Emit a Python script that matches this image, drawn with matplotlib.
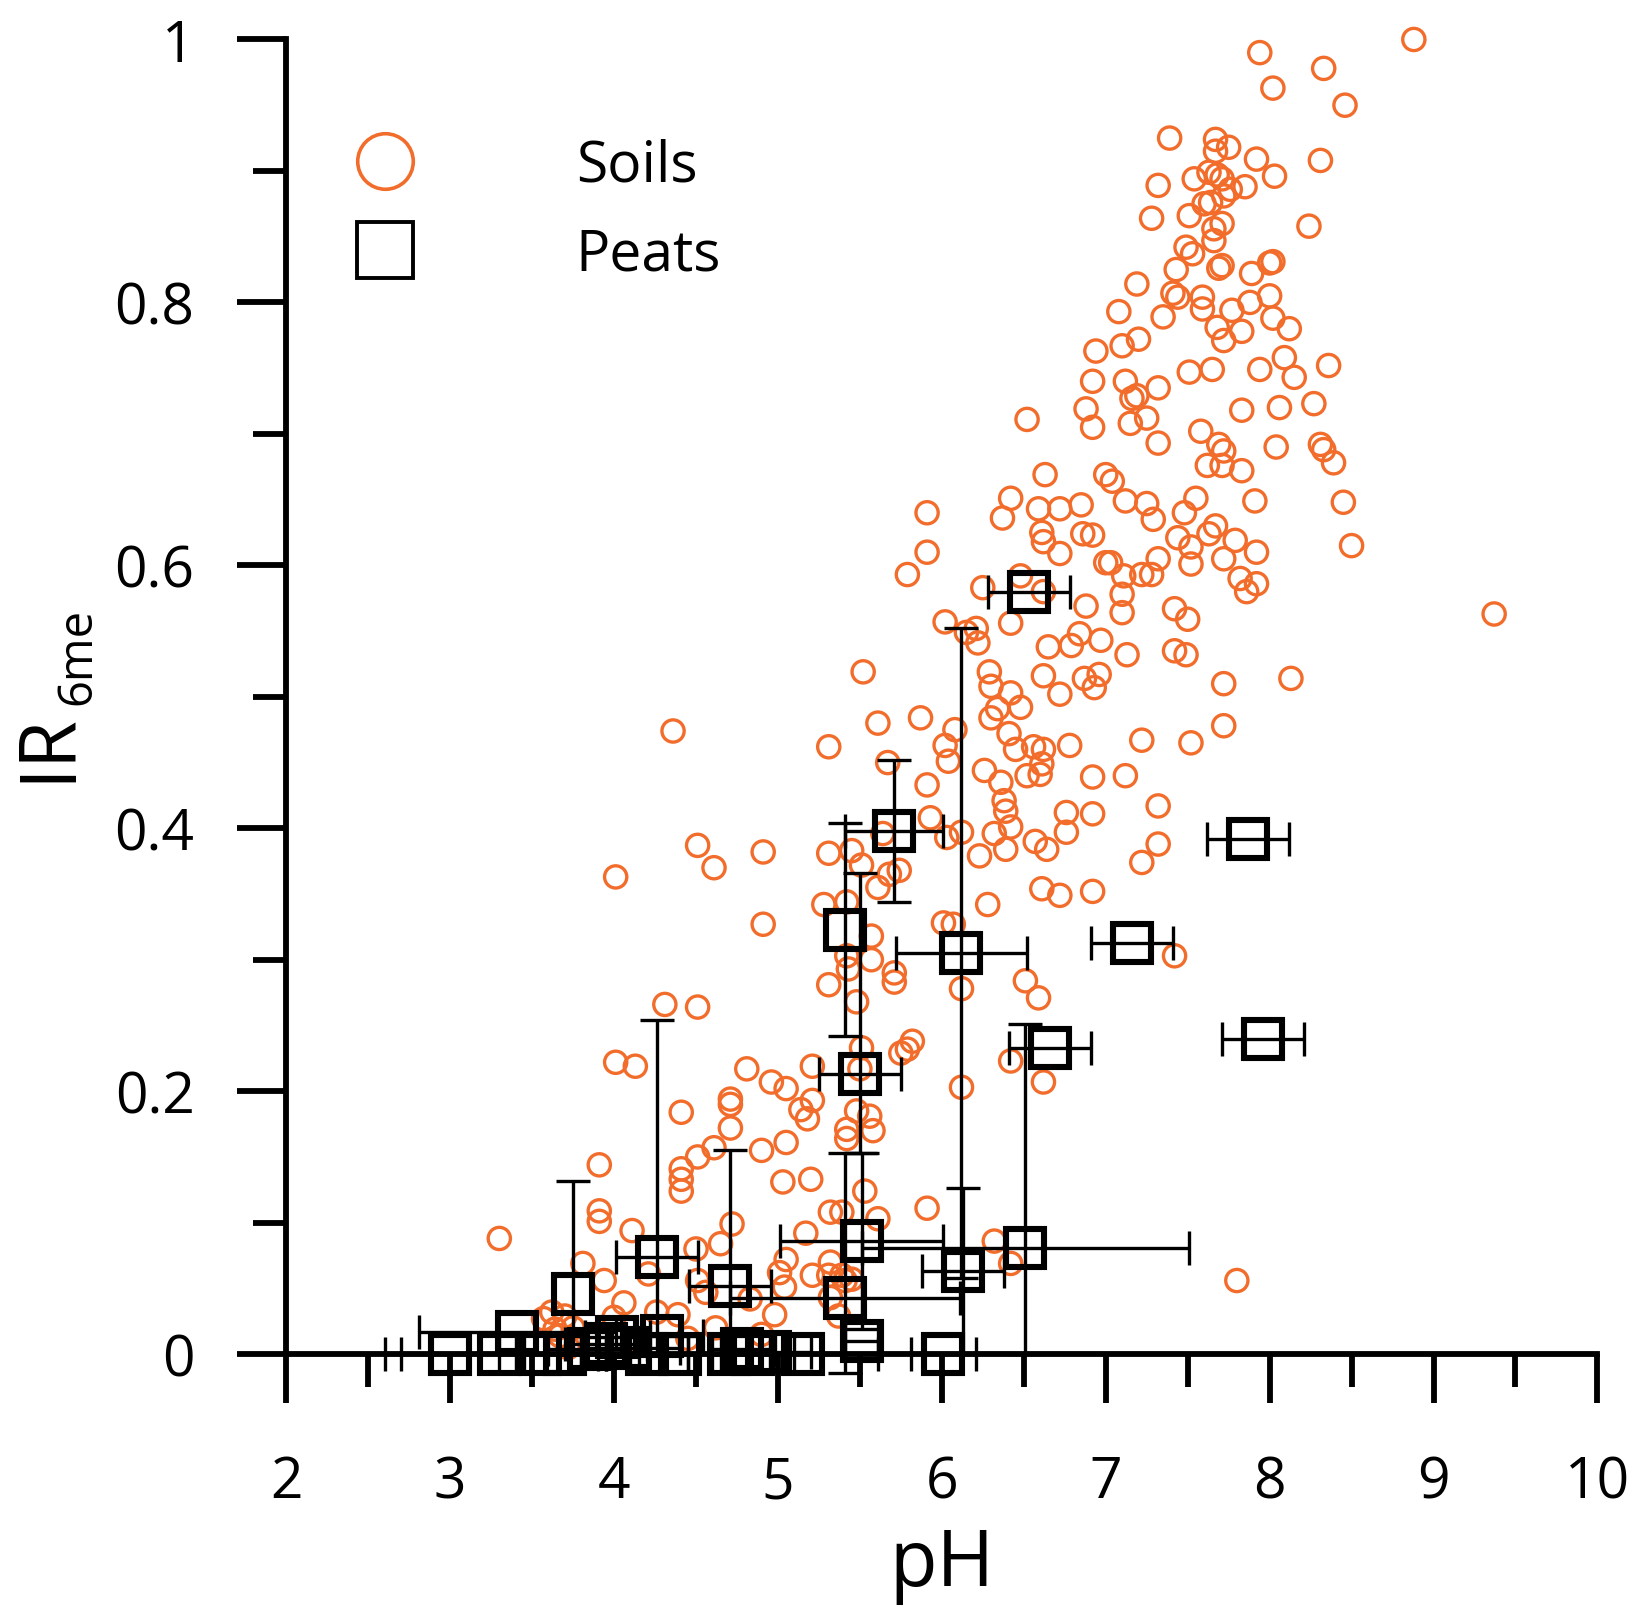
import numpy as np
import matplotlib
matplotlib.use("Agg")
import matplotlib.pyplot as plt
from matplotlib.lines import Line2D
from matplotlib.ticker import MultipleLocator, FuncFormatter

plt.rcParams['font.family'] = ['Open Sans', 'DejaVu Sans']

ORANGE = '#F26D2B'

# soils: pH and IR6me
soil_ph = [
    8.88, 7.94, 8.33, 8.02, 8.46, 7.39, 7.67, 7.75, 7.67, 7.92, 8.31, 8.03, 7.54, 7.63, 7.68, 7.71,
    7.85, 7.76, 7.32, 7.72, 7.64, 7.60, 7.28, 7.51, 7.71, 7.66, 7.66, 8.24, 7.49, 7.53, 7.43, 7.69,
    7.71, 7.89, 8.02, 8.00, 7.19, 7.41, 7.44, 7.59, 7.59, 7.08, 7.35, 7.77, 7.88, 8.00, 8.02, 8.12,
    7.68, 7.83, 7.72, 7.20, 7.10, 6.94, 7.51, 7.65, 7.94, 8.09, 8.15, 8.36, 6.92, 7.12, 7.19, 7.16,
    7.32, 6.88, 6.92, 6.52, 7.15, 7.25, 7.83, 8.06, 8.27, 7.32, 7.58, 7.69, 7.72, 8.04, 8.31, 8.33,
    8.39, 7.62, 7.71, 7.83, 6.63, 7.00, 7.04,
    5.91, 6.42, 6.37, 6.59, 6.72, 6.85, 7.12, 7.25, 7.29, 7.55, 7.48, 7.91, 6.61, 6.62, 6.72, 6.86,
    6.92, 5.91, 5.79, 7.00, 7.03, 7.11, 7.22, 7.28, 7.32, 7.44, 7.52, 7.52, 7.63, 7.67, 7.72, 7.79,
    7.92, 7.82, 7.86, 7.10, 7.10, 6.88, 7.42, 7.50, 6.25, 6.48, 6.62, 6.02, 6.15, 6.21, 6.22, 6.42,
    6.65, 6.79, 6.84, 6.97, 7.13, 7.42, 7.49, 7.72, 5.52, 6.29, 6.30, 6.42, 6.62, 6.72, 6.87, 6.93,
    6.96, 6.34, 6.48, 6.30, 5.61, 5.87, 6.08, 6.02, 6.04, 5.67, 6.41, 6.45, 6.56, 6.62, 6.78, 7.22,
    7.52, 7.72, 6.26, 6.36, 6.52, 6.60, 6.61, 6.92, 7.12, 5.91, 6.38, 6.39, 6.42, 6.32, 6.39, 6.23,
    6.57, 6.64, 6.76, 6.76, 6.92, 7.32, 7.32, 7.22, 5.93, 6.03, 6.12, 5.64, 5.45, 5.51, 5.74, 5.68,
    5.61, 5.42, 6.61, 6.72, 6.92, 6.28, 6.01, 6.07,
    8.45, 8.50, 7.92, 9.37, 8.13,
    4.36, 5.31, 4.51, 4.61, 4.01, 4.91, 5.31, 5.28, 4.91,
    4.31, 4.51, 4.01, 4.13, 4.81, 4.96, 4.71,
    5.57, 5.57, 5.71, 5.71, 5.42, 5.43, 5.31, 5.48, 5.82, 5.75, 5.79, 5.51, 5.21, 5.05, 5.21, 5.14,
    5.18, 5.50, 5.48, 5.56, 5.42, 5.58, 5.42, 5.05, 6.12, 6.12, 6.51, 6.59, 6.42, 6.62, 7.42,
    4.41, 3.91, 3.91, 3.91, 3.30, 4.41, 4.41, 4.41, 4.51, 4.61, 4.71, 4.71, 4.90, 4.11, 4.50, 4.65,
    3.94, 3.81, 4.06, 4.00, 4.21, 4.51, 4.56, 4.83, 5.05, 5.01, 5.04, 5.21, 5.31, 5.39, 5.32, 5.32,
    5.39, 5.03, 5.20, 5.17, 3.57, 3.62, 3.70, 3.75, 3.67, 4.72,
    5.53, 5.61, 5.91, 6.32, 6.42, 7.80, 5.32, 5.37, 5.41, 5.45,
    3.64, 3.72, 4.26, 4.39, 4.15, 4.45, 4.62, 4.90, 4.98,
]
soil_ir = [
    1.000, 0.990, 0.978, 0.963, 0.950, 0.925, 0.924, 0.918, 0.915, 0.909, 0.908, 0.896, 0.894, 0.899, 0.897, 0.894,
    0.888, 0.886, 0.889, 0.881, 0.876, 0.875, 0.864, 0.866, 0.860, 0.856, 0.847, 0.858, 0.842, 0.837, 0.825, 0.826,
    0.828, 0.822, 0.831, 0.830, 0.814, 0.807, 0.804, 0.804, 0.795, 0.793, 0.789, 0.794, 0.800, 0.805, 0.788, 0.780,
    0.781, 0.778, 0.771, 0.772, 0.767, 0.763, 0.747, 0.749, 0.749, 0.758, 0.743, 0.752, 0.740, 0.740, 0.729, 0.727,
    0.735, 0.719, 0.705, 0.711, 0.708, 0.712, 0.718, 0.720, 0.723, 0.693, 0.702, 0.692, 0.687, 0.690, 0.692, 0.688,
    0.678, 0.676, 0.676, 0.672, 0.669, 0.669, 0.664,
    0.640, 0.651, 0.636, 0.643, 0.643, 0.646, 0.649, 0.647, 0.635, 0.651, 0.640, 0.649, 0.625, 0.618, 0.609, 0.624,
    0.623, 0.610, 0.593, 0.602, 0.602, 0.592, 0.593, 0.593, 0.605, 0.621, 0.614, 0.601, 0.624, 0.630, 0.605, 0.619,
    0.610, 0.590, 0.580, 0.578, 0.564, 0.569, 0.567, 0.559, 0.583, 0.592, 0.580, 0.557, 0.549, 0.552, 0.541, 0.556,
    0.538, 0.539, 0.548, 0.543, 0.532, 0.535, 0.532, 0.510, 0.519, 0.519, 0.508, 0.503, 0.516, 0.502, 0.514, 0.507,
    0.517, 0.491, 0.492, 0.484, 0.480, 0.484, 0.475, 0.463, 0.451, 0.450, 0.472, 0.460, 0.462, 0.460, 0.463, 0.467,
    0.465, 0.478, 0.444, 0.435, 0.440, 0.441, 0.449, 0.439, 0.440, 0.433, 0.421, 0.413, 0.401, 0.396, 0.384, 0.379,
    0.390, 0.384, 0.412, 0.397, 0.411, 0.417, 0.388, 0.374, 0.408, 0.393, 0.397, 0.396, 0.383, 0.372, 0.368, 0.365,
    0.355, 0.344, 0.354, 0.349, 0.352, 0.342, 0.328, 0.327,
    0.648, 0.615, 0.586, 0.563, 0.514,
    0.474, 0.462, 0.387, 0.370, 0.363, 0.382, 0.381, 0.342, 0.327,
    0.266, 0.264, 0.222, 0.219, 0.217, 0.207, 0.194,
    0.318, 0.300, 0.290, 0.283, 0.303, 0.293, 0.281, 0.268, 0.238, 0.229, 0.232, 0.233, 0.219, 0.202, 0.193, 0.186,
    0.179, 0.217, 0.185, 0.181, 0.171, 0.170, 0.164, 0.161, 0.278, 0.203, 0.284, 0.271, 0.223, 0.207, 0.303,
    0.184, 0.144, 0.109, 0.101, 0.088, 0.141, 0.133, 0.124, 0.150, 0.157, 0.190, 0.172, 0.155, 0.094, 0.080, 0.084,
    0.056, 0.069, 0.039, 0.028, 0.061, 0.056, 0.047, 0.042, 0.072, 0.062, 0.051, 0.060, 0.060, 0.060, 0.070, 0.108,
    0.108, 0.131, 0.133, 0.092, 0.027, 0.032, 0.029, 0.020, 0.014, 0.099,
    0.124, 0.103, 0.111, 0.086, 0.069, 0.056, 0.043, 0.029, 0.056, 0.057,
    0.019, 0.005, 0.032, 0.030, 0.010, 0.012, 0.020, 0.015, 0.030,
]

# peats: mean pH, mean IR6me and their error bars
peat_ph = [6.53, 5.71, 7.87, 5.41, 7.16, 6.12, 6.66, 7.96, 5.50, 4.26, 3.75, 4.71, 5.51, 5.41, 6.13, 6.51,
           3.00, 3.30, 3.41, 3.55, 3.70, 3.85, 3.95, 4.02, 4.10, 4.20, 4.29, 4.40, 4.70, 4.78, 4.85, 4.95,
           5.15, 5.51, 6.01]
peat_ir = [0.580, 0.398, 0.392, 0.323, 0.313, 0.305, 0.233, 0.240, 0.213, 0.074, 0.046, 0.052, 0.086, 0.043,
           0.063, 0.081, 0.0, 0.0, 0.017, 0.0, 0.0, 0.004, 0.008, 0.013, 0.005, 0.0, 0.014, 0.0, 0.0, 0.004,
           0.0, 0.002, 0.0, 0.010, 0.0]
peat_ph_err = [0.25, 0.30, 0.25, 0.0, 0.25, 0.40, 0.25, 0.25, 0.25, 0.25, 0.0, 0.25, 0.50, 0.70, 0.25, 1.00,
               0.40, 0.60, 0.60, 0.25, 0.25, 0.25, 0.25, 0.20, 0.30, 0.25, 0.25, 0.25, 0.25, 0.20, 0.25, 0.25,
               0.46, 0.10, 0.20]
peat_ir_err_lo = [0.0, 0.054, 0.0, 0.081, 0.0, 0.247, 0.0, 0.0, 0.060, 0.074, 0.046, 0.052, 0.067, 0.057,
                  0.063, 0.081] + [0.0] * 19
peat_ir_err_hi = [0.0, 0.054, 0.0, 0.081, 0.0, 0.247, 0.0, 0.0, 0.153, 0.180, 0.086, 0.103, 0.067, 0.110,
                  0.063, 0.170] + [0.0] * 19


def main():
    fig = plt.figure(figsize=(16.32, 16.06), dpi=100)
    ax = fig.add_axes([0.1754, 0.1562, 0.8034, 0.8186])

    ax.scatter(soil_ph, soil_ir, s=16.0 ** 2, facecolors='none', edgecolors=ORANGE,
               linewidths=2.4, zorder=2, clip_on=False)

    px = np.array(peat_ph)
    py = np.array(peat_ir)
    xe = np.array(peat_ph_err)
    ylo = np.array(peat_ir_err_lo)
    yhi = np.array(peat_ir_err_hi)

    mx = xe > 0
    ax.errorbar(px[mx], py[mx], xerr=xe[mx], fmt='none', ecolor='black', elinewidth=2.4,
                capsize=12.5, capthick=2.4, zorder=3, clip_on=False)
    my = (ylo + yhi) > 0
    ax.errorbar(px[my], py[my], yerr=[ylo[my], yhi[my]], fmt='none', ecolor='black', elinewidth=2.4,
                capsize=12.5, capthick=2.4, zorder=3, clip_on=False)
    ax.plot(px, py, 's', mfc='none', mec='black', mew=4.4, ms=28.0, zorder=4, clip_on=False)

    ax.set_xlim(2, 10)
    ax.set_ylim(0, 1)
    ax.spines['top'].set_visible(False)
    ax.spines['right'].set_visible(False)
    for s in ('left', 'bottom'):
        ax.spines[s].set_linewidth(4.2)

    ax.xaxis.set_major_locator(MultipleLocator(1))
    ax.xaxis.set_minor_locator(MultipleLocator(0.5))
    ax.yaxis.set_major_locator(MultipleLocator(0.2))
    ax.yaxis.set_minor_locator(MultipleLocator(0.1))
    ax.yaxis.set_major_formatter(FuncFormatter(lambda v, p: '%g' % round(v, 2)))

    ax.tick_params(which='major', direction='out', length=35, width=4.2, labelsize=41)
    ax.tick_params(which='minor', direction='out', length=23.5, width=4.2)
    ax.tick_params(axis='x', which='major', pad=37)
    ax.tick_params(axis='y', which='major', pad=31)

    handles = [
        Line2D([], [], marker='o', ls='none', mfc='none', mec=ORANGE, ms=40, mew=2.6),
        Line2D([], [], marker='s', ls='none', mfc='none', mec='black', ms=40, mew=2.8),
    ]
    ax.legend(handles, ['Soils', 'Peats'], loc='upper left', bbox_to_anchor=(0.201, 0.9135),
              bbox_transform=fig.transFigure, frameon=False, fontsize=41, handlelength=2.0,
              handletextpad=2.35, labelspacing=0.56, borderpad=0, borderaxespad=0)

    fig.text(0.5771, 0.0125, 'pH', fontsize=56, ha='center', va='baseline')
    fig.text(0.0423, 0.5131, 'IR', fontsize=56, rotation=90, rotation_mode='anchor',
             ha='left', va='baseline')
    fig.text(0.0551, 0.5610, '6me', fontsize=34, rotation=90, rotation_mode='anchor',
             ha='left', va='baseline')

    fig.savefig('out.png', dpi=100)


if __name__ == "__main__":
    main()
